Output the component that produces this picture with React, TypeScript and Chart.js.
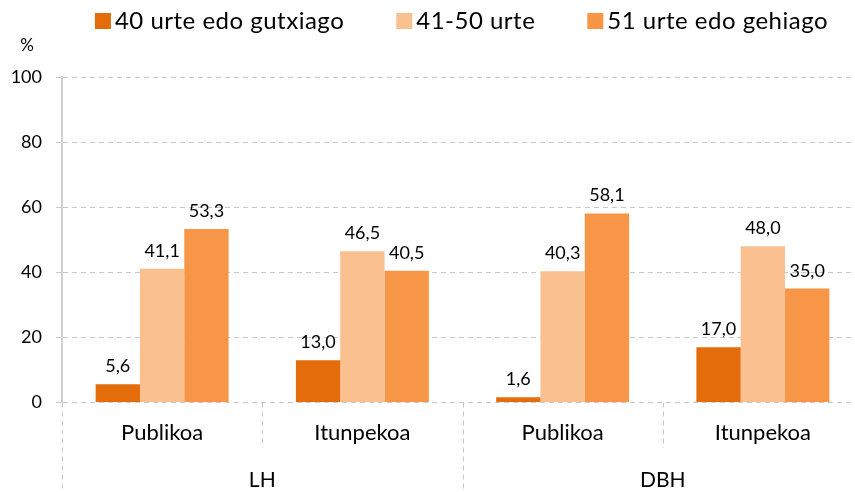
import React, { useEffect, useRef } from "react";
import { Chart, registerables } from "chart.js";

Chart.register(...registerables);

const categories = ["Publikoa", "Itunpekoa", "Publikoa", "Itunpekoa"];
const groups = ["LH", "DBH"];
const seriesNames = ["40 urte edo gutxiago", "41-50 urte", "51 urte edo gehiago"];
const under40 = [5.6, 13.0, 1.6, 17.0];
const from41to50 = [41.1, 46.5, 40.3, 48.0];
const over51 = [53.3, 40.5, 58.1, 35.0];
const colors = ["#E46C0A", "#FAC090", "#F79646"];
const yTicks = [0, 20, 40, 60, 80, 100];

const FONT = "Lato, 'Noto Sans', sans-serif";

const overlayPlugin = {
  id: "overlay",
  afterDraw(chart: any) {
    const ctx = chart.ctx as CanvasRenderingContext2D;
    const area = chart.chartArea;
    ctx.save();

    // legend
    ctx.font = `24px ${FONT}`;
    (ctx as any).letterSpacing = "0.5px";
    ctx.textBaseline = "alphabetic";
    ctx.textAlign = "left";
    const box = 16, boxGap = 4, itemGap = 52;
    const items = chart.data.datasets.map((d: any) => ({
      label: d.label,
      color: d.backgroundColor,
      w: ctx.measureText(d.label).width,
    }));
    const total = items.reduce((s: number, it: any) => s + box + boxGap + it.w, 0) + itemGap * (items.length - 1);
    let lx = (area.left + area.right) / 2 - total / 2 - 1;
    items.forEach((it: any) => {
      ctx.fillStyle = it.color;
      ctx.fillRect(lx, 13, box, box);
      ctx.fillStyle = "#000";
      ctx.fillText(it.label, lx + box + boxGap, 29);
      lx += box + boxGap + it.w + itemGap;
    });
    (ctx as any).letterSpacing = "0px";

    // % title
    ctx.font = `17px ${FONT}`;
    ctx.textAlign = "center";
    ctx.textBaseline = "middle";
    ctx.fillStyle = "#000";
    ctx.fillText("%", 27, 46);

    // data labels
    ctx.font = `18px ${FONT}`;
    ctx.textAlign = "center";
    ctx.textBaseline = "alphabetic";
    chart.data.datasets.forEach((d: any, i: number) => {
      const meta = chart.getDatasetMeta(i);
      meta.data.forEach((bar: any, j: number) => {
        const v = d.data[j] as number;
        ctx.fillText(v.toFixed(1).replace(".", ","), bar.x, bar.y - 12);
      });
    });

    // dividers below axis
    ctx.strokeStyle = "#c8c8c8";
    ctx.lineWidth = 1;
    ctx.setLineDash([5, 4]);
    const n = categories.length;
    const w = (area.right - area.left) / n;
    for (let k = 0; k <= n; k++) {
      const px = Math.round(area.left + k * w) + 0.5;
      const long = k % 2 === 0;
      ctx.beginPath();
      ctx.moveTo(px, area.bottom);
      ctx.lineTo(px, long ? 492 : 448);
      ctx.stroke();
    }
    ctx.setLineDash([]);

    // group labels
    ctx.font = `21px ${FONT}`;
    ctx.textAlign = "center";
    ctx.textBaseline = "alphabetic";
    ctx.fillStyle = "#000";
    groups.forEach((g, gi) => {
      const cx = area.left + (gi * 2 + 1) * w;
      ctx.fillText(g, cx, 487);
    });
    ctx.restore();
  },
};

export default function App() {
  const ref = useRef<HTMLCanvasElement | null>(null);
  useEffect(() => {
    if (!ref.current) return;
    const chart = new Chart(ref.current, {
      type: "bar",
      data: {
        labels: categories,
        datasets: [
          { label: seriesNames[0], data: under40, backgroundColor: colors[0] },
          { label: seriesNames[1], data: from41to50, backgroundColor: colors[1] },
          { label: seriesNames[2], data: over51, backgroundColor: colors[2] },
        ],
      },
      options: {
        animation: false,
        responsive: false,
        maintainAspectRatio: false,
        layout: { padding: { top: 77, left: 0, right: 12, bottom: 0 } },
        datasets: { bar: { categoryPercentage: 0.664, barPercentage: 1.0 } },
        plugins: { legend: { display: false }, tooltip: { enabled: false }, title: { display: false } },
        scales: {
          x: {
            afterFit: (s: any) => { s.height = 89.5; },
            grid: { display: false },
            border: { display: false },
            ticks: { font: { family: FONT, size: 22 }, color: "#000", padding: 9, maxRotation: 0 },
          },
          y: {
            min: 0,
            max: 100,
            afterFit: (s: any) => { s.width = 62; },
            afterBuildTicks: (s: any) => { s.ticks = yTicks.map((v) => ({ value: v })); },
            grid: { color: "#c8c8c8", tickLength: 6, tickBorderDash: [], drawTicks: true, tickColor: "#c8c8c8" },
            border: { display: true, color: "#d0d0d0", width: 2, dash: [5, 4] },
            ticks: { font: { family: FONT, size: 18 }, color: "#000", padding: 14 },
          },
        },
      },
      plugins: [overlayPlugin],
    });
    return () => chart.destroy();
  }, []);
  return (
    <div style={{ position: "fixed", left: 0, top: 0, width: 875, height: 492, background: "#fff" }}>
      <canvas ref={ref} width={875} height={492} style={{ width: 875, height: 492 }} />
    </div>
  );
}
